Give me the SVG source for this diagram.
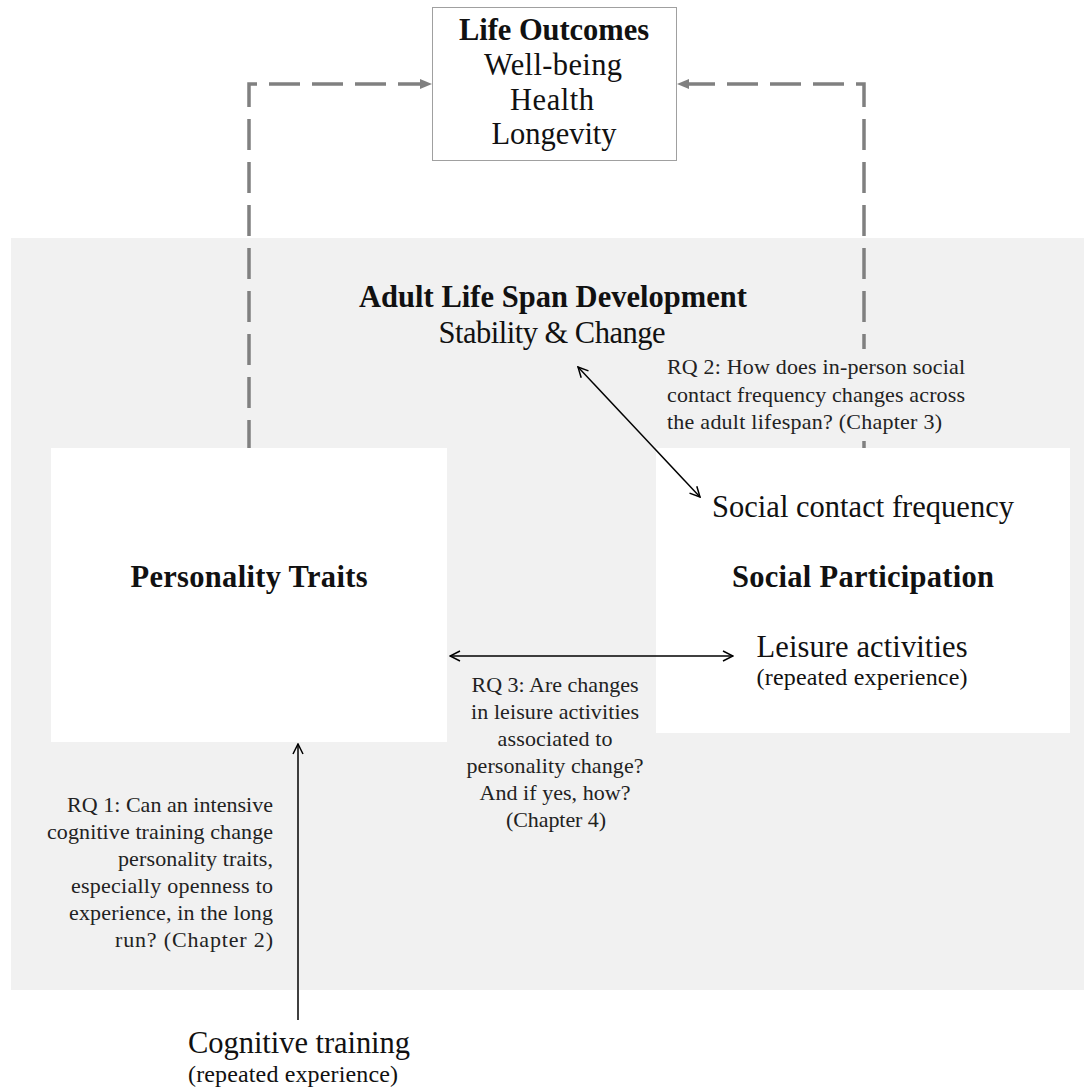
<svg xmlns="http://www.w3.org/2000/svg" width="1086" height="1087" viewBox="0 0 1086 1087">
  <style>
    .lbl { font-family: "Liberation Serif", "Times New Roman", serif; font-size: 30.5px; fill: #111; text-anchor: middle; }
    .b { font-weight: bold; }
    .sub { font-size: 24px; }
    .rq { font-family: "Liberation Serif", "Times New Roman", serif; font-size: 22px; fill: #222; }
    .dash { fill: none; stroke: #808080; stroke-width: 3.5; stroke-dasharray: 31 12; stroke-dashoffset: 3; marker-end: url(#grey-head); }
    .link { fill: none; stroke: #000; stroke-width: 1.5; }
  </style>
  <defs>
    <marker id="grey-head" viewBox="0 0 12 10" refX="0" refY="5" markerWidth="12" markerHeight="10" markerUnits="userSpaceOnUse" orient="auto">
      <path d="M0,0 L12,5 L0,10 z" fill="#808080"/>
    </marker>
    <marker id="open-head" viewBox="0 0 12 12" refX="11" refY="6" markerWidth="12" markerHeight="12" markerUnits="userSpaceOnUse" orient="auto-start-reverse">
      <path d="M1,1 L11,6 L1,11" fill="none" stroke="#000" stroke-width="1.5"/>
    </marker>
  </defs>

  <rect width="1086" height="1087" fill="#fff"/>

  <!-- life span development panel -->
  <g id="lifespan">
    <rect x="11" y="238" width="1073" height="752" fill="#f1f1f1"/>
    <text class="lbl b" x="553" y="307" textLength="388">Adult Life Span Development</text>
    <text class="lbl" x="552" y="343" textLength="227">Stability &amp; Change</text>
  </g>

  <!-- dashed links to outcomes -->
  <g id="connectors">
    <path class="dash" d="M249,448 V84 H420"/>
    <path class="dash" d="M864,448 V84 H689"/>
  </g>

  <g id="life-outcomes">
    <rect x="432.5" y="7.5" width="244" height="153" fill="#fff" stroke="#a0a0a0" stroke-width="1"/>
    <text class="lbl b" x="554" y="40" textLength="190">Life Outcomes</text>
    <text class="lbl" x="553" y="75" textLength="138">Well-being</text>
    <text class="lbl" x="552" y="110" textLength="84">Health</text>
    <text class="lbl" x="554" y="144" textLength="125">Longevity</text>
  </g>

  <g id="personality">
    <rect x="51" y="448" width="396" height="294" fill="#fff"/>
    <text class="lbl b" x="249" y="587" textLength="237">Personality Traits</text>
  </g>

  <g id="social-participation">
    <rect x="656" y="448" width="414" height="285" fill="#fff"/>
    <text class="lbl" x="863" y="517" textLength="302">Social contact frequency</text>
    <text class="lbl b" x="863" y="587" textLength="262">Social Participation</text>
    <text class="lbl" x="862" y="657" textLength="211">Leisure activities</text>
    <text class="lbl sub" x="862" y="685" textLength="211">(repeated experience)</text>
  </g>

  <g id="cognitive-training">
    <text class="lbl" x="299" y="1053" textLength="222">Cognitive training</text>
    <text class="lbl sub" x="293" y="1082" textLength="210">(repeated experience)</text>
  </g>

  <!-- research question arrows -->
  <g id="rq-arrows">
    <line class="link" x1="578" y1="367" x2="700" y2="497" marker-start="url(#open-head)" marker-end="url(#open-head)"/>
    <line class="link" x1="450" y1="656" x2="733" y2="656" marker-start="url(#open-head)" marker-end="url(#open-head)"/>
    <line class="link" x1="298" y1="1020" x2="298" y2="744" marker-end="url(#open-head)"/>
  </g>

  <g id="rq2">
    <rect x="664" y="349" width="308" height="92" fill="#f1f1f1"/>
    <text class="rq" x="667" y="374" textLength="298">RQ 2: How does in-person social</text>
    <text class="rq" x="667" y="402" textLength="298">contact frequency changes across</text>
    <text class="rq" x="667" y="429" textLength="275">the adult lifespan? (Chapter 3)</text>
  </g>

  <g id="rq3" text-anchor="middle">
    <text class="rq" x="555" y="692" textLength="167">RQ 3: Are changes</text>
    <text class="rq" x="555" y="719" textLength="168">in leisure activities</text>
    <text class="rq" x="555" y="746" textLength="115">associated to</text>
    <text class="rq" x="555" y="773" textLength="177">personality change?</text>
    <text class="rq" x="555" y="800" textLength="151">And if yes, how?</text>
    <text class="rq" x="556" y="827" textLength="100">(Chapter 4)</text>
  </g>

  <g id="rq1" text-anchor="end">
    <text class="rq" x="273" y="812" textLength="206">RQ 1: Can an intensive</text>
    <text class="rq" x="273" y="839" textLength="226">cognitive training change</text>
    <text class="rq" x="273" y="866" textLength="155">personality traits,</text>
    <text class="rq" x="273" y="893" textLength="202">especially openness to</text>
    <text class="rq" x="273" y="920" textLength="204">experience, in the long</text>
    <text class="rq" x="273" y="947" textLength="158">run? (Chapter 2)</text>
  </g>
</svg>
